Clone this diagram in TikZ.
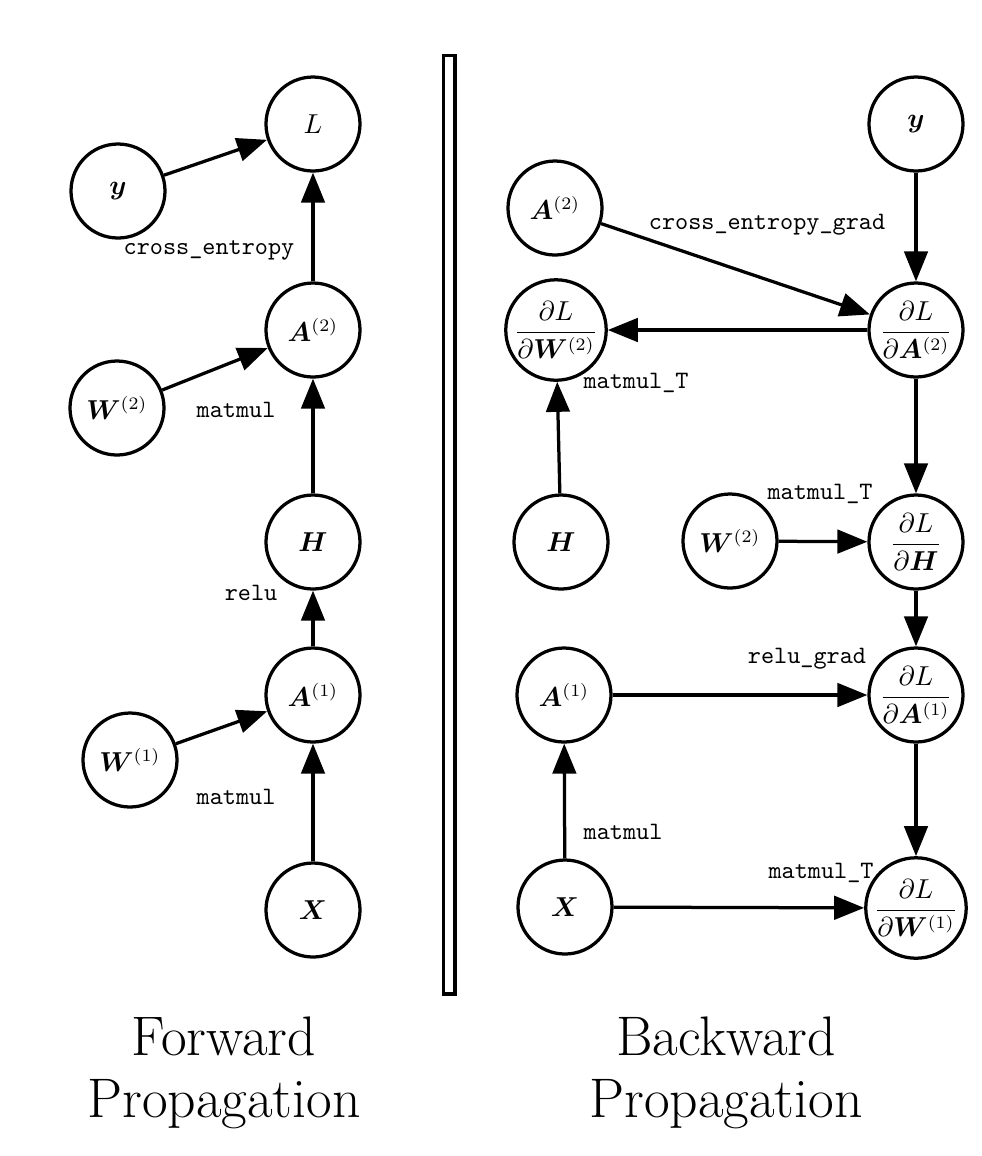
\documentclass[tikz,border=0pt]{standalone}
\usepackage{amsmath,bm}
\usetikzlibrary{arrows.meta}
\tikzset{
  var/.style={circle,draw,line width=1.3pt,minimum size=37.6pt,inner sep=0pt,font=\fontsize{10.5}{12}\selectfont},
  op/.style={font=\ttfamily,inner sep=0pt},
  arr/.style={line width=1.3pt,-{Triangle[length=12pt,width=9.4pt]}},
  ttl/.style={font=\fontsize{22.3}{27}\selectfont,anchor=base,inner sep=0pt}
}
\begin{document}
\begin{tikzpicture}[x=0.4pt,y=-0.4pt]
\useasboundingbox (0,0) rectangle (982,1156);
% divider
\draw[line width=1.3pt] (443.5,55.5) rectangle (455,994);
% forward
\node[var] (fL)  at (313,124) {$L$};
\node[var] (fy)  at (118,191) {$\bm{y}$};
\node[var] (fA2) at (313,330) {$\bm{A}^{(2)}$};
\node[var] (fW2) at (117,408) {$\bm{W}^{(2)}$};
\node[var] (fH)  at (313,542) {$\bm{H}$};
\node[var] (fA1) at (313,695) {$\bm{A}^{(1)}$};
\node[var] (fW1) at (130,760) {$\bm{W}^{(1)}$};
\node[var] (fX)  at (313,910) {$\bm{X}$};
\draw[arr] (fy) -- (fL);
\draw[arr] (fA2) -- (fL);
\draw[arr] (fW2) -- (fA2);
\draw[arr] (fH) -- (fA2);
\draw[arr] (fA1) -- (fH);
\draw[arr] (fW1) -- (fA1);
\draw[arr] (fX) -- (fA1);
\node[op] (l1) at (209,250) {cross\_entropy};
\node[op] (l2) at (236,410) {matmul};
\node[op] (l3) at (251,593) {relu};
\node[op] (l4) at (236,797) {matmul};
% backward
\node[var] (by)   at (916,124) {$\bm{y}$};
\node[var] (bA2)  at (555,208) {$\bm{A}^{(2)}$};
\node[var] (gW2)  at (556,330) {$\dfrac{\partial L}{\partial \bm{W}^{(2)}}$};
\node[var] (gA2)  at (916,330) {$\dfrac{\partial L}{\partial \bm{A}^{(2)}}$};
\node[var] (bH)   at (561,542) {$\bm{H}$};
\node[var] (bW2)  at (730,541) {$\bm{W}^{(2)}$};
\node[var] (gH)   at (916,542) {$\dfrac{\partial L}{\partial \bm{H}}$};
\node[var] (bA1)  at (564,695) {$\bm{A}^{(1)}$};
\node[var] (gA1)  at (916,695) {$\dfrac{\partial L}{\partial \bm{A}^{(1)}}$};
\node[var] (bX)   at (565,907) {$\bm{X}$};
\node[var] (gW1)  at (916,908) {$\dfrac{\partial L}{\partial \bm{W}^{(1)}}$};
\draw[arr] (by) -- (gA2);
\draw[arr] (bA2) -- (gA2);
\draw[arr] (gA2) -- (gW2);
\draw[arr] (bH) -- (gW2);
\draw[arr] (gA2) -- (gH);
\draw[arr] (bW2) -- (gH);
\draw[arr] (gH) -- (gA1);
\draw[arr] (bA1) -- (gA1);
\draw[arr] (gA1) -- (gW1);
\draw[arr] (bX) -- (gW1);
\draw[arr] (bX) -- (bA1);
\node[op] (m1) at (767,225) {cross\_entropy\_grad};
\node[op] (m2) at (636,383) {matmul\_T};
\node[op] (m3) at (820,494) {matmul\_T};
\node[op] (m4) at (807,659) {relu\_grad};
\node[op] (m5) at (623,832) {matmul};
\node[op] (m6) at (821,873) {matmul\_T};
% titles
\node[ttl] (t1) at (224,1055) {Forward};
\node[ttl] (t2) at (224,1117) {Propagation};
\node[ttl] (t3) at (726,1055) {Backward};
\node[ttl] (t4) at (726,1117) {Propagation};
\end{tikzpicture}
\end{document}
